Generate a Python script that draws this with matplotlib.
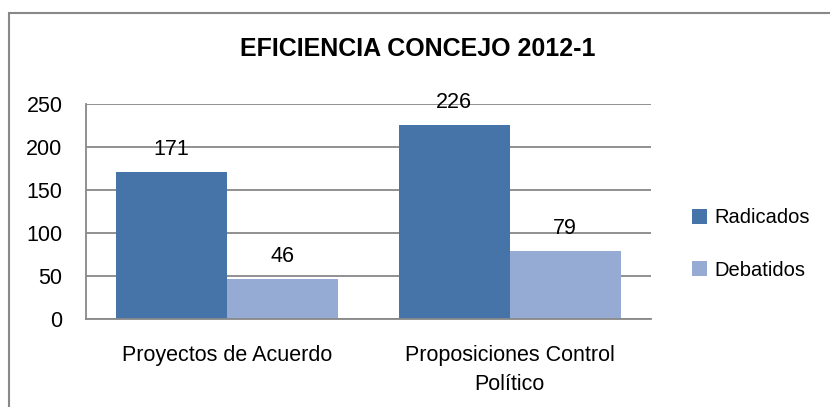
import matplotlib
matplotlib.use("Agg")
import matplotlib.pyplot as plt
import numpy as np
from matplotlib.patches import Rectangle

plt.rcParams['font.family'] = ['Liberation Sans', 'DejaVu Sans']

categories = ["Proyectos de Acuerdo", "Proposiciones Control\nPolítico"]
series = ["Radicados", "Debatidos"]
radicados = [171, 226]
debatidos = [46, 79]
colors = ["#4674A8", "#95ABD3"]

fig = plt.figure(figsize=(8.3, 4.07), dpi=100)
ax = fig.add_axes([86/830, 1 - 319/407, 565/830, 215/407])

x = np.arange(len(categories))
w = 0.393
b1 = ax.bar(x - w/2, radicados, w, color=colors[0], label=series[0], zorder=2)
b2 = ax.bar(x + w/2, debatidos, w, color=colors[1], label=series[1], zorder=2)

for bars in (b1, b2):
    for r in bars:
        ax.text(r.get_x() + r.get_width()/2, r.get_height() + 14, str(int(r.get_height())),
                ha="center", va="bottom", fontsize=15.5)

ax.set_xlim(-0.5, 1.5)
ax.set_ylim(0, 250)
ax.set_yticks([0, 50, 100, 150, 200, 250])
ax.yaxis.grid(True, color="#888888", linewidth=1.3)
ax.set_axisbelow(True)
ax.tick_params(axis="both", length=0, labelsize=15.5)
ax.tick_params(axis="y", pad=17)
ax.tick_params(axis="x", pad=19)
ax.set_xticks(x)
ax.set_xticklabels(categories, linespacing=1.5)
for s in ["top", "right"]:
    ax.spines[s].set_visible(False)
for s in ["left", "bottom"]:
    ax.spines[s].set_color("#888888")
    ax.spines[s].set_linewidth(1.3)

fig.text(418/830, 1 - 49/407, "EFICIENCIA CONCEJO 2012-1", ha="center", va="center",
         fontsize=18, fontweight="bold")

fig.legend(handles=[b1, b2], loc="center left", bbox_to_anchor=(688/830, 1 - 244/407),
           frameon=False, fontsize=14.5, handlelength=0.75, handleheight=0.75,
           handletextpad=0.35, labelspacing=1.65, borderaxespad=0, borderpad=0.2)

fig.patches.append(Rectangle((9/830, -0.1), 1, 1 - 13/407 + 0.1, transform=fig.transFigure,
                             fill=False, edgecolor="#888888", linewidth=1.5))

fig.savefig("out.png", dpi=100)
